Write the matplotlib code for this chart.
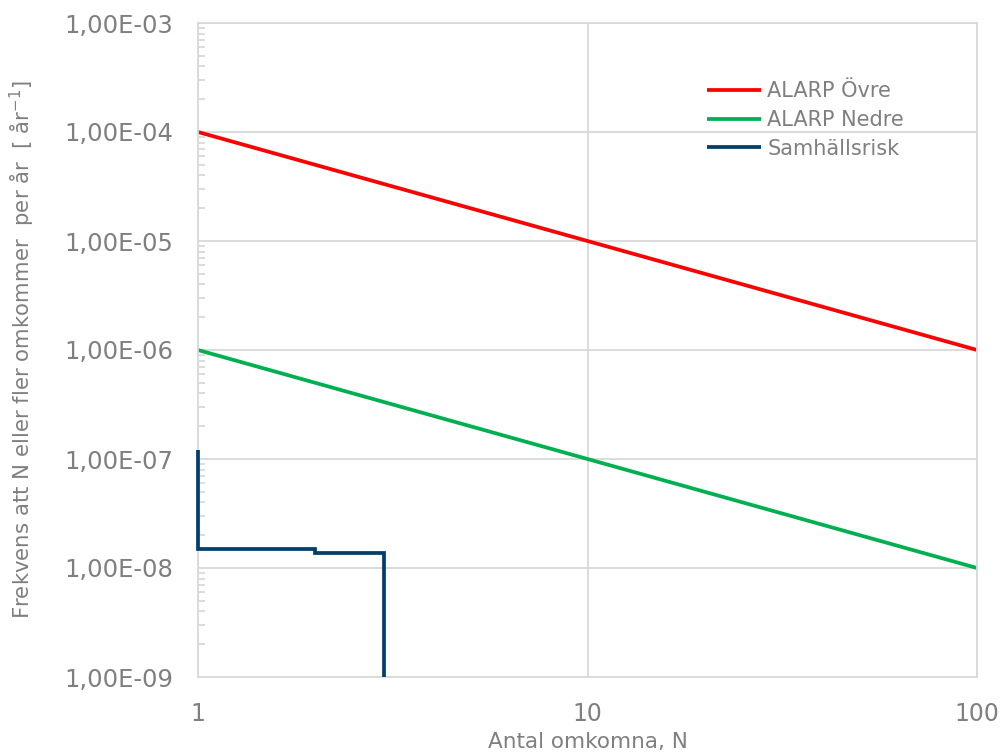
import matplotlib
matplotlib.use("Agg")
import matplotlib.pyplot as plt
from matplotlib.ticker import FuncFormatter, LogLocator, NullFormatter, FixedLocator

# Data
n_alarp = [1, 100]
alarp_ovre = [1e-4, 1e-6]
alarp_nedre = [1e-6, 1e-8]
n_samh = [1, 1, 2, 2, 3, 3]
f_samh = [1.2e-7, 1.5e-8, 1.5e-8, 1.37e-8, 1.37e-8, 1e-9]
x_ticks = [1, 10, 100]
x_tick_labels = ["1", "10", "100"]

gray = "#7f7f7f"
gridc = "#d9d9d9"

fig = plt.figure(figsize=(10.07, 7.56), dpi=100)
ax = fig.add_axes([198/1007, 1-677/756, (977-198)/1007, (677-23)/756])

ax.plot(n_alarp, alarp_ovre, color="#ff0000", lw=2.7, label="ALARP Övre", solid_capstyle="butt")
ax.plot(n_alarp, alarp_nedre, color="#00b050", lw=2.7, label="ALARP Nedre", solid_capstyle="butt")
ax.plot(n_samh, f_samh, color="#003f6b", lw=2.7, label="Samhällsrisk",
        solid_joinstyle="miter", solid_capstyle="butt", clip_on=False, zorder=5)

ax.set_xscale("log")
ax.set_yscale("log")
ax.set_xlim(1, 100)
ax.set_ylim(1e-9, 1e-3)

ax.xaxis.set_major_locator(FixedLocator(x_ticks))
ax.set_xticklabels(x_tick_labels)
ax.xaxis.set_minor_locator(FixedLocator([]))
ax.yaxis.set_major_locator(LogLocator(base=10, numticks=10))
ax.yaxis.set_minor_locator(LogLocator(base=10, subs=range(2, 10), numticks=20))
ax.yaxis.set_minor_formatter(NullFormatter())

def yfmt(v, pos):
    s = "%.2E" % v
    return s.replace(".", ",")
ax.yaxis.set_major_formatter(FuncFormatter(yfmt))

ax.grid(True, which="major", color=gridc, lw=1.3)
for s in ax.spines.values():
    s.set_color(gridc)
    s.set_linewidth(1.3)
ax.tick_params(axis="y", which="major", length=0, pad=18, labelsize=17.5, labelcolor=gray)
ax.tick_params(axis="y", which="minor", direction="in", length=5, color=gridc, width=1.3)
ax.tick_params(axis="x", which="major", length=0, pad=18, labelsize=17, labelcolor=gray)

ax.set_xlabel("Antal omkomna, N", fontsize=15.5, color=gray, labelpad=4)
ax.set_ylabel("Frekvens att N eller fler omkommer  per år  [ år$^{-1}$]", fontsize=15.3,
              color=gray)
ax.yaxis.set_label_coords(-0.207, 0.5)

leg = ax.legend(loc="center left", bbox_to_anchor=(0.629, 0.852), frameon=False, fontsize=15,
                labelcolor=gray, handlelength=2.6, handletextpad=0.3, labelspacing=0.42)

fig.savefig("out.png", dpi=100)
